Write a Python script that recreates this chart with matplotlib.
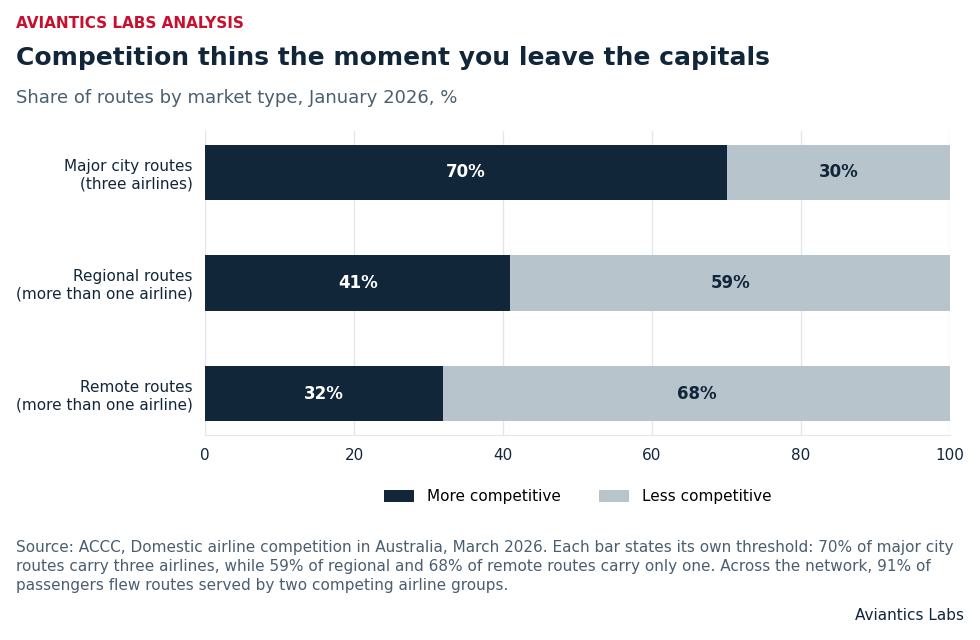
import numpy as np
import matplotlib.pyplot as plt

categories = ["Major city routes\n(three airlines)",
              "Regional routes\n(more than one airline)",
              "Remote routes\n(more than one airline)"]
more_competitive = [70, 41, 32]
less_competitive = [30, 59, 68]
series_names = ["More competitive", "Less competitive"]

navy = "#12263a"
grey = "#b8c4cc"
grid_col = "#e3e7eb"
muted = "#4a5e70"

fig = plt.figure(figsize=(9.8, 6.4), dpi=100)
ax = fig.add_axes([205 / 980, 1 - 435 / 640, 745 / 980, 304 / 640])

y = np.arange(len(categories))
b1 = ax.barh(y, more_competitive, height=0.5, color=navy, label=series_names[0], zorder=3)
b2 = ax.barh(y, less_competitive, left=more_competitive, height=0.5, color=grey,
             label=series_names[1], zorder=3)

for bar, v in zip(b1, more_competitive):
    ax.text(bar.get_x() + bar.get_width() / 2, bar.get_y() + bar.get_height() / 2,
            f"{v}%", ha="center", va="center", color="white", fontsize=12, fontweight="bold", zorder=4)
for bar, v in zip(b2, less_competitive):
    ax.text(bar.get_x() + bar.get_width() / 2, bar.get_y() + bar.get_height() / 2,
            f"{v}%", ha="center", va="center", color=navy, fontsize=12, fontweight="bold", zorder=4)

ax.set_yticks(y)
ax.set_yticklabels(categories, fontsize=11, color=navy)
ax.invert_yaxis()
ax.set_xlim(0, 100)
ax.set_xticks([0, 20, 40, 60, 80, 100])
ax.tick_params(axis="x", labelsize=11, colors=navy, length=0, pad=9)
ax.tick_params(axis="y", length=0, pad=9)
ax.grid(axis="x", color=grid_col, lw=1, zorder=0)
for s in ["top", "right", "left"]:
    ax.spines[s].set_visible(False)
ax.spines["bottom"].set_color(grid_col)

ax.legend(loc="upper center", bbox_to_anchor=(0.5, -0.134), ncol=2, frameon=False,
          fontsize=11, handlelength=2.0, handleheight=0.8, columnspacing=2.5)

fig.text(16 / 980, 1 - 23 / 640, "AVIANTICS LABS ANALYSIS", color="#c8102e",
         fontsize=11, fontweight="bold", va="center")
fig.text(16 / 980, 1 - 58 / 640, "Competition thins the moment you leave the capitals",
         color=navy, fontsize=18, fontweight="bold", va="center")
fig.text(16 / 980, 1 - 98 / 640, "Share of routes by market type, January 2026, %",
         color=muted, fontsize=13, va="center")
fig.text(16 / 980, 1 - 540 / 640,
         "Source: ACCC, Domestic airline competition in Australia, March 2026. Each bar states its own threshold: 70% of major city\n"
         "routes carry three airlines, while 59% of regional and 68% of remote routes carry only one. Across the network, 91% of\n"
         "passengers flew routes served by two competing airline groups.",
         color=muted, fontsize=11, va="top", linespacing=1.32)
fig.text(964 / 980, 1 - 616 / 640, "Aviantics Labs", color=navy, fontsize=11,
         ha="right", va="center")

fig.savefig("out.png", dpi=100)
